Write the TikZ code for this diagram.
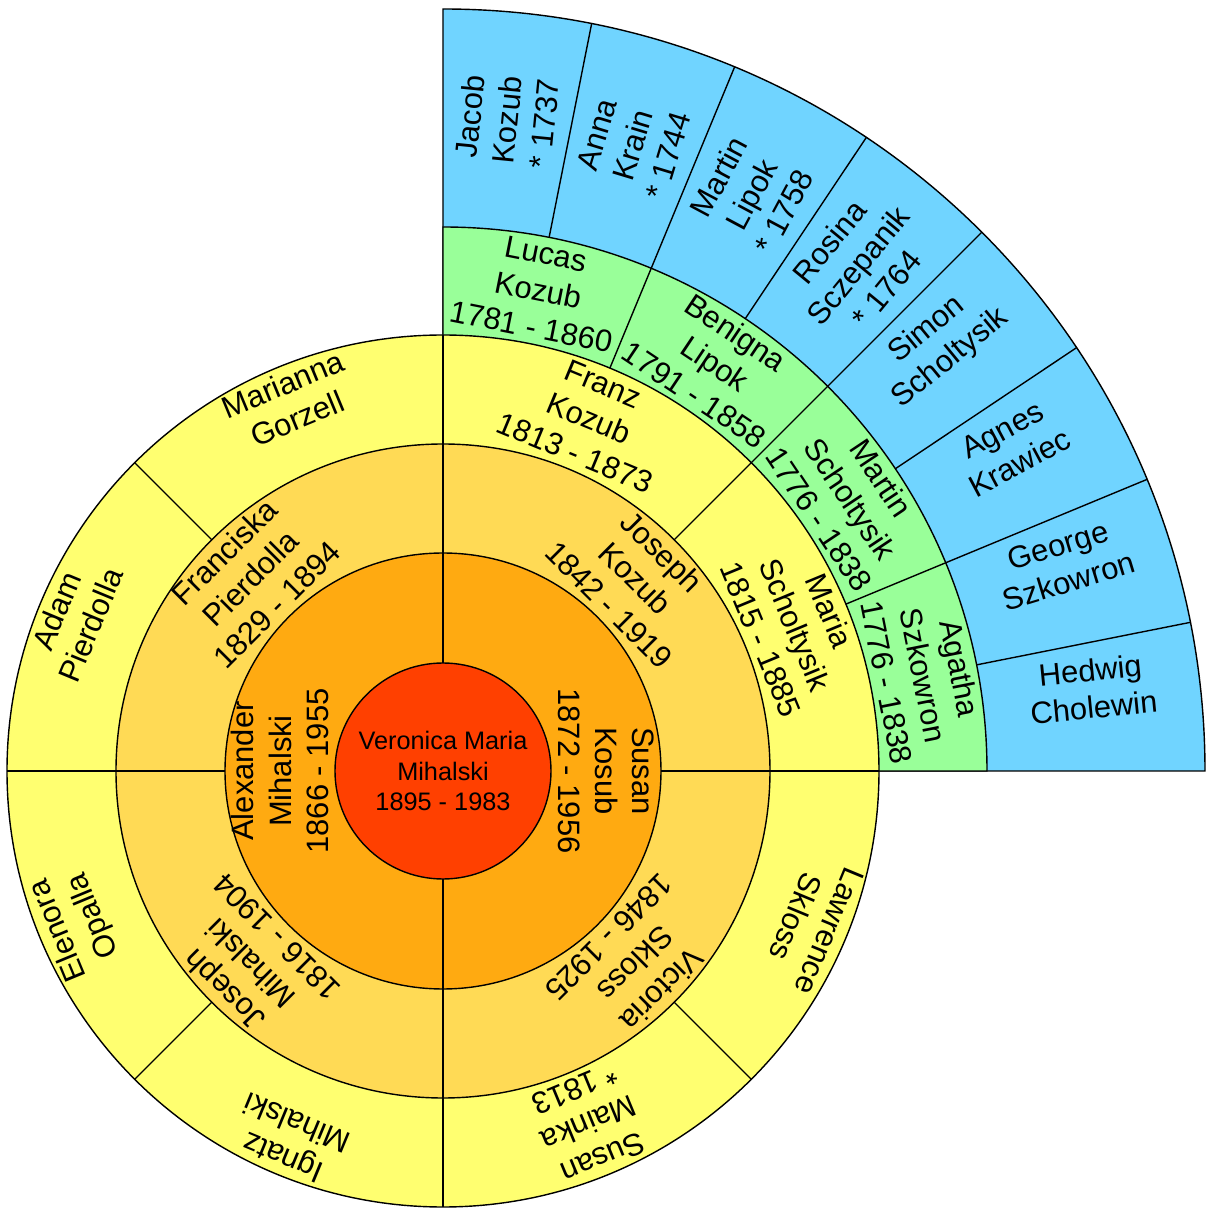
\documentclass[tikz,border=0pt]{standalone}
\usepackage{fontspec}
\setmainfont{Liberation Sans}
\usepackage{tikz}

\definecolor{rootcol}{RGB}{255,64,0}
\definecolor{gen1col}{RGB}{255,170,17}
\definecolor{gen2col}{RGB}{255,218,85}
\definecolor{gen3col}{RGB}{255,255,112}
\definecolor{gen4col}{RGB}{153,255,153}
\definecolor{gen5col}{RGB}{112,212,255}

\begin{document}
\begin{tikzpicture}
    [line width = .4pt, every node/.style = {align=center, inner sep=0pt, font=\fontsize{8.8}{10.6}\selectfont}]
    \useasboundingbox (-4.43,-4.44) rectangle (7.67,7.71);

    % outer quarter, then the rings
    \filldraw[fill=gen5col] (0,0) -- (0:7.62) arc (0:90:7.62) -- cycle;
    \filldraw[fill=gen4col] (0,0) -- (0:5.44) arc (0:90:5.44) -- cycle;
    \filldraw[fill=gen3col] (0,0) circle (4.36);
    \filldraw[fill=gen2col] (0,0) circle (3.27);
    \filldraw[fill=gen1col] (0,0) circle (2.18);

    \foreach \a in {90,270}
      \draw (\a:1.08) -- (\a:2.18);
    \foreach \a in {0,90,...,270}
      \draw (\a:2.18) -- (\a:3.27);
    \foreach \a in {0,45,...,315}
      \draw (\a:3.27) -- (\a:4.36);
    \foreach \a in {22.5,45,67.5}
      \draw (\a:4.36) -- (\a:5.44);
    \foreach \k in {1,...,7}
      \draw (\k*11.25:5.44) -- (\k*11.25:7.62);

    \filldraw[fill=rootcol] (0,0) circle (1.08);
    \node[font=\fontsize{7.2}{8.8}\selectfont] (root) at (0,0) {Veronica Maria\\Mihalski\\1895 - 1983};

    \foreach \a/\t [count=\i] in {180/{Alexander\\Mihalski\\1866 - 1955}, 0/{Susan\\Kosub\\1872 - 1956}}
      \node[rotate=\a-90] (ring1n\i) at (\a:1.63) {\t};

    \foreach \a/\t [count=\i] in {45/{Joseph\\Kozub\\1842 - 1919}, 135/{Franciska\\Pierdolla\\1829 - 1894},
        225/{Joseph\\Mihalski\\1816 - 1904}, 315/{Victoria\\Skloss\\1846 - 1925}}
      \node[rotate=\a-90] (ring2n\i) at (\a:2.725) {\t};

    \foreach \a/\t [count=\i] in {22.5/{Maria\\Scholtysik\\1815 - 1885}, 67.5/{Franz\\Kozub\\1813 - 1873},
        112.5/{Marianna\\Gorzell\\\mbox{}}, 157.5/{Adam\\Pierdolla\\\mbox{}},
        202.5/{Elenora\\Opalla\\\mbox{}}, 247.5/{Ignatz\\Mihalski\\\mbox{}},
        292.5/{Susan\\Mainka\\* 1813}, 337.5/{Lawrence\\Skloss\\\mbox{}}}
      \node[rotate=\a-90] (ring3n\i) at (\a:3.815) {\t};

    \foreach \a/\t [count=\i] in {11.25/{Agatha\\Szkowron\\1776 - 1838}, 33.75/{Martin\\Scholtysik\\1776 - 1838},
        56.25/{Benigna\\Lipok\\1791 - 1858}, 78.75/{Lucas\\Kozub\\1781 - 1860}}
      \node[rotate=\a-90] (ring4n\i) at (\a:4.9) {\t};

    % outermost ring is written outwards
    \foreach \a/\t [count=\i] in {5.625/{Hedwig\\Cholewin\\\mbox{}}, 16.875/{George\\Szkowron\\\mbox{}},
        28.125/{Agnes\\Krawiec\\\mbox{}}, 39.375/{Simon\\Scholtysik\\\mbox{}},
        50.625/{Rosina\\Sczepanik\\* 1764}, 61.875/{Martin\\Lipok\\* 1758},
        73.125/{Anna\\Krain\\* 1744}, 84.375/{Jacob\\Kozub\\* 1737}}
      \node[rotate=\a] (ring5n\i) at (\a:6.54) {\t};
\end{tikzpicture}
\end{document}
